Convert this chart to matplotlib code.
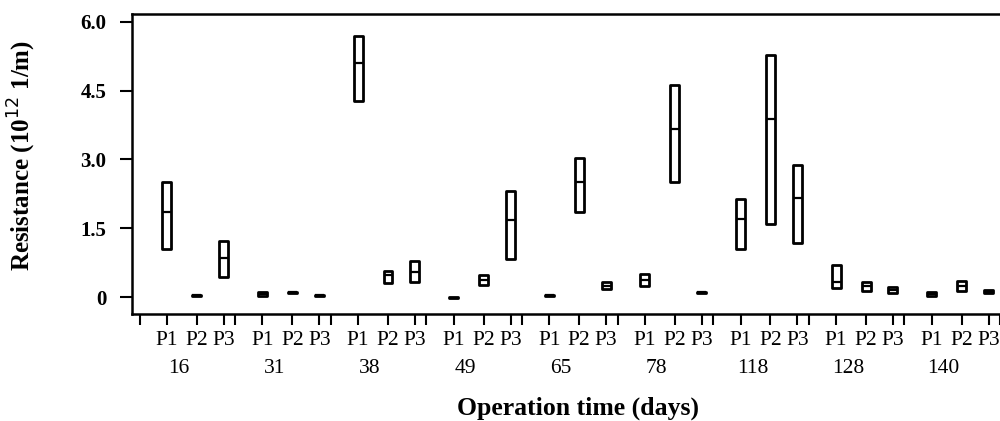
import matplotlib
matplotlib.use("Agg")
import matplotlib.pyplot as plt
from matplotlib.patches import Rectangle
from matplotlib.transforms import blended_transform_factory

# ---- data (resistance, 10^12 1/m) ----
days = ['16', '31', '38', '49', '65', '78', '118', '128', '140']
positions = ['P1', 'P2', 'P3']

p1_min = [1.04, 0.03, 4.27, -0.02, 0.03, 0.24, 1.04, 0.20, 0.03]
p1_med = [1.86, 0.07, 5.10, -0.01, 0.04, 0.37, 1.71, 0.33, 0.07]
p1_max = [2.51, 0.11, 5.68, 0.00, 0.05, 0.50, 2.14, 0.70, 0.12]

p2_min = [0.03, 0.09, 0.30, 0.26, 1.86, 2.50, 1.60, 0.14, 0.13]
p2_med = [0.04, 0.10, 0.48, 0.38, 2.51, 3.67, 3.88, 0.24, 0.24]
p2_max = [0.05, 0.11, 0.57, 0.49, 3.02, 4.61, 5.28, 0.32, 0.34]

p3_min = [0.44, 0.03, 0.33, 0.84, 0.18, 0.09, 1.18, 0.09, 0.08]
p3_med = [0.85, 0.04, 0.55, 1.67, 0.25, 0.10, 2.16, 0.15, 0.11]
p3_max = [1.23, 0.05, 0.79, 2.32, 0.32, 0.11, 2.87, 0.21, 0.15]

series = [(p1_min, p1_med, p1_max), (p2_min, p2_med, p2_max), (p3_min, p3_med, p3_max)]

yticks = [0, 1.5, 3.0, 4.5, 6.0]
ytick_labels = ['0', '1.5', '3.0', '4.5', '6.0']

# ---- layout ----
GROUP_STEP = 95.9
OFFSETS = [0, 30, 57]
SEP_AFTER = 68.5
SEP_FIRST = -27
BOX_W = 9

plt.rcParams['font.family'] = ['Liberation Serif', 'DejaVu Serif']

fig = plt.figure(figsize=(10, 4.21), dpi=100)
ax = fig.add_axes([0.1315, 0.254, 0.8685, 0.713])

xpos_major = []
xlabels = []
for g, day in enumerate(days):
    base = g * GROUP_STEP
    for k, (mn, md, mx) in enumerate(series):
        x = base + OFFSETS[k]
        xpos_major.append(x)
        xlabels.append(positions[k])
        lo, mid, hi = mn[g], md[g], mx[g]
        ax.add_patch(Rectangle((x - BOX_W / 2, lo), BOX_W, hi - lo,
                               facecolor='white', edgecolor='black',
                               linewidth=2.0, joinstyle='round', zorder=3))
        ax.plot([x - BOX_W / 2, x + BOX_W / 2], [mid, mid], color='black',
                linewidth=1.6, zorder=4, solid_capstyle='butt')

minor = [SEP_FIRST] + [g * GROUP_STEP + SEP_AFTER for g in range(len(days))]

ax.set_xlim(-35.5, 833)
ax.set_ylim(-0.37, 6.17)

ax.set_xticks(xpos_major)
ax.set_xticklabels(xlabels, fontsize=15.5)
ax.set_xticks(minor, minor=True)
ax.tick_params(axis='x', which='both', direction='out', length=8, width=1.5, pad=4)

ax.set_yticks(yticks)
ax.set_yticklabels(ytick_labels, fontsize=15, fontweight='bold')
ax.tick_params(axis='y', direction='out', length=9, width=1.5, pad=9)

for s in ['left', 'bottom', 'top']:
    ax.spines[s].set_linewidth(1.8)
ax.spines['right'].set_visible(False)

trans = blended_transform_factory(ax.transData, ax.transAxes)
for g, day in enumerate(days):
    ax.text(g * GROUP_STEP + 12, -0.18, day, transform=trans,
            ha='center', va='center', fontsize=15.5)

fig.text(0.578, 0.03, 'Operation time (days)', ha='center', va='center',
         fontsize=18.5, fontweight='bold')
fig.text(0.022, 0.63, r'Resistance (10$^{12}$ 1/m)', ha='center', va='center',
         rotation=90, fontsize=18, fontweight='bold')

fig.savefig('out.png', dpi=100)
